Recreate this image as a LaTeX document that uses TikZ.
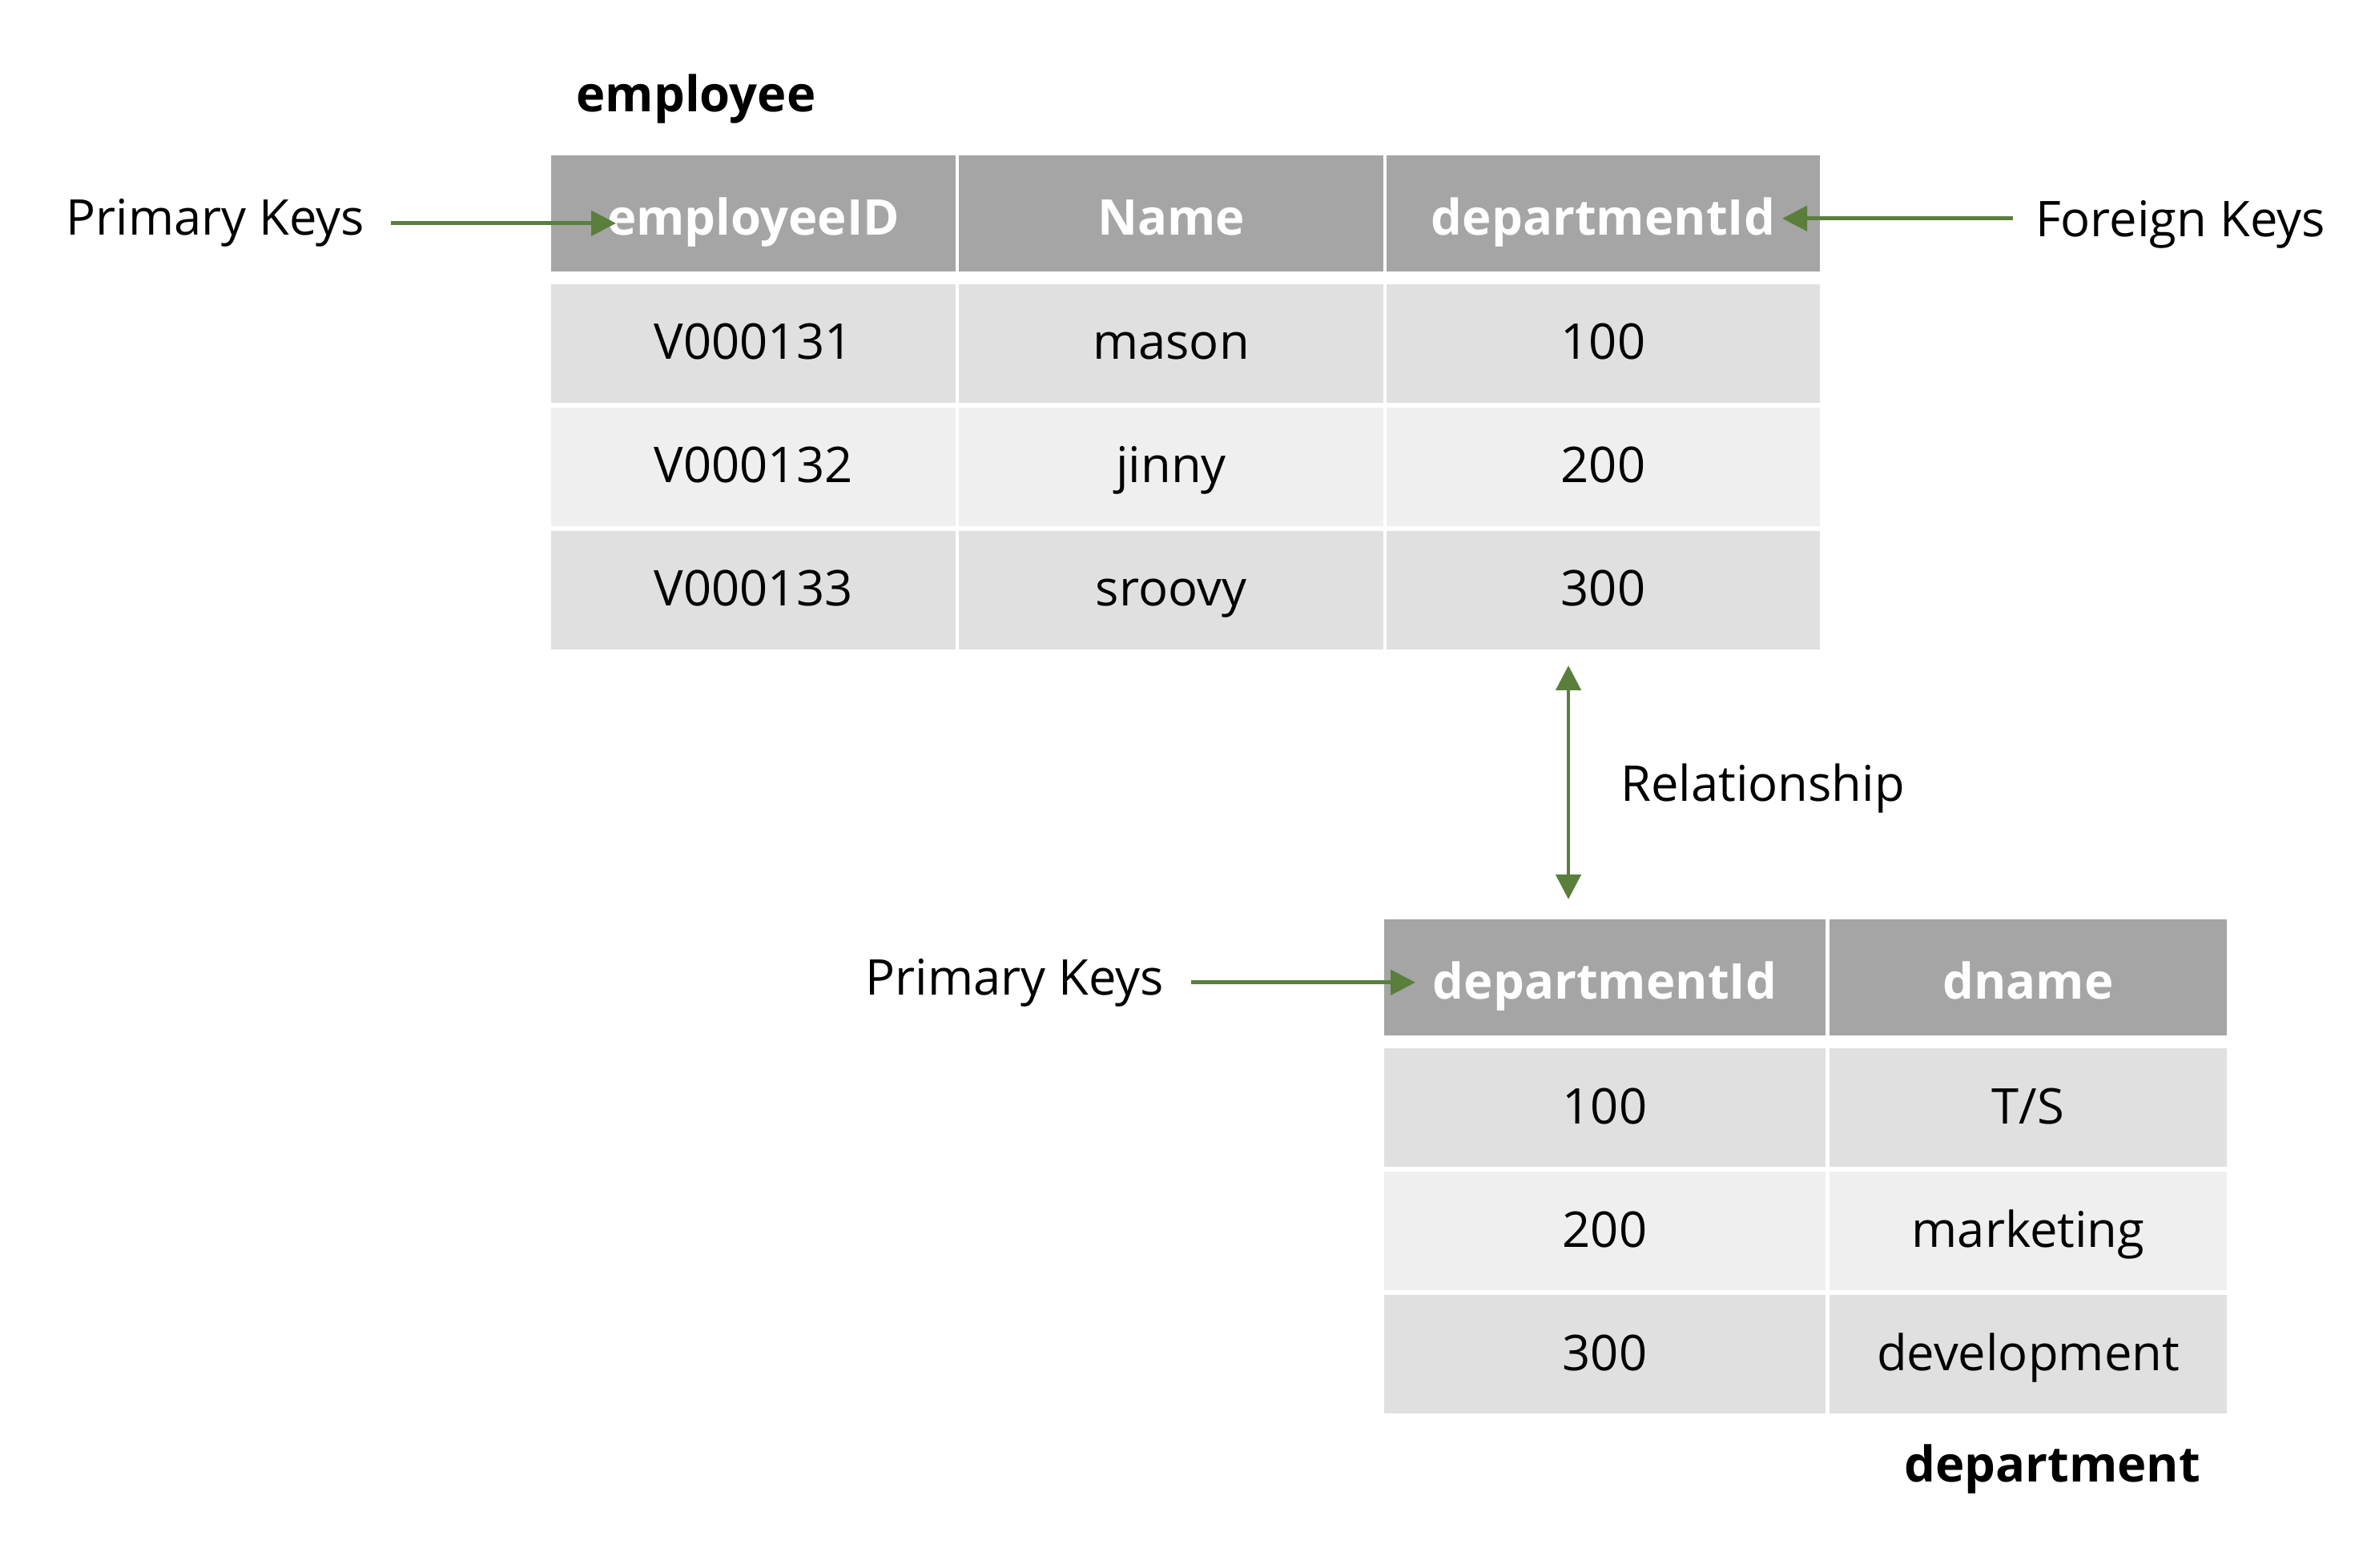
\documentclass[tikz,border=0pt]{standalone}
\usepackage{fontspec}
\setmainfont{Open Sans}
\usetikzlibrary{arrows.meta,positioning}
\definecolor{headgray}{HTML}{A5A5A5}
\definecolor{rowdark}{HTML}{E0E0E0}
\definecolor{rowlight}{HTML}{EFEFEF}
\definecolor{keygreen}{HTML}{5A7F3D}
\newcommand\cellfont{\fontsize{17.5}{21}\selectfont}

\begin{document}
\begin{tikzpicture}[
	tcell/.style={rectangle,inner sep=0pt,outer sep=0pt,minimum height=1.48cm,text height=0.5cm,text depth=0.1cm,font=\cellfont},
	hcell/.style={tcell,fill=headgray,minimum height=1.45cm,text height=0.6cm,text depth=0.06cm,text=white,font=\cellfont\bfseries},
	oddrow/.style={tcell,fill=rowdark},
	evenrow/.style={tcell,fill=rowlight},
	ecolA/.style={minimum width=5.05cm},
	ecolB/.style={minimum width=5.30cm},
	ecolC/.style={minimum width=5.41cm},
	dcolA/.style={minimum width=5.51cm},
	dcolB/.style={minimum width=4.96cm},
	keylabel/.style={inner sep=0pt,outer sep=0pt,font=\cellfont},
	tablename/.style={inner sep=0pt,outer sep=0pt,font=\cellfont\bfseries},
	keyarrow/.style={draw=keygreen,line width=1.4pt,-{Triangle[length=0.31cm,width=0.31cm]}},
	relarrow/.style={draw=keygreen,line width=1.4pt,{Triangle[length=0.31cm,width=0.31cm]}-{Triangle[length=0.31cm,width=0.31cm]}}]
	\useasboundingbox (0,0) rectangle (29.5,-19.58);
	\node (temp) [tablename,anchor=base] at (8.69,-1.40) {employee};
	\node (eh1) [hcell,ecolA,anchor=north west] at (6.88,-1.94) {employeeID};
	\node (eh2) [hcell,ecolB,right=0.04cm of eh1] {Name};
	\node (eh3) [hcell,ecolC,right=0.04cm of eh2] {departmentId};
	\node (e11) [oddrow,ecolA,below=0.16cm of eh1] {V000131};
	\node (e12) [oddrow,ecolB,below=0.16cm of eh2] {mason};
	\node (e13) [oddrow,ecolC,below=0.16cm of eh3] {100};
	\node (e21) [evenrow,ecolA,below=0.06cm of e11] {V000132};
	\node (e22) [evenrow,ecolB,below=0.06cm of e12] {jinny};
	\node (e23) [evenrow,ecolC,below=0.06cm of e13] {200};
	\node (e31) [oddrow,ecolA,below=0.06cm of e21] {V000133};
	\node (e32) [oddrow,ecolB,below=0.06cm of e22] {sroovy};
	\node (e33) [oddrow,ecolC,below=0.06cm of e23] {300};
	\node (dh1) [hcell,dcolA,anchor=north west] at (17.28,-11.48) {departmentId};
	\node (dh2) [hcell,dcolB,right=0.05cm of dh1] {dname};
	\node (d11) [oddrow,dcolA,below=0.16cm of dh1] {100};
	\node (d12) [oddrow,dcolB,below=0.16cm of dh2] {T/S};
	\node (d21) [evenrow,dcolA,below=0.06cm of d11] {200};
	\node (d22) [evenrow,dcolB,below=0.06cm of d12] {marketing};
	\node (d31) [oddrow,dcolA,below=0.06cm of d21] {300};
	\node (d32) [oddrow,dcolB,below=0.06cm of d22] {development};
	\node (tdept) [tablename,anchor=base] at (25.62,-18.50) {department};
	\node (pkemp) [keylabel,anchor=base east] at (4.55,-2.94) {Primary Keys};
	\node (fkemp) [keylabel,anchor=base west] at (25.41,-2.96) {Foreign Keys};
	\node (pkdept) [keylabel,anchor=base east] at (14.53,-12.42) {Primary Keys};
	\node (rel) [keylabel,anchor=base west] at (20.23,-10.00) {Relationship};
	\coordinate (pkemptip) at ([xshift=0.81cm]pkemp.east -| eh1.west);
	\coordinate (fkemptip) at ([xshift=-0.47cm,yshift=0.08cm]fkemp.west -| eh3.east);
	\coordinate (pkdepttip) at ([xshift=0.39cm]pkdept.east -| dh1.west);
	\path (pkemp.east) edge[keyarrow,shorten <=0.33cm] (pkemptip);
	\path ([yshift=0.08cm]fkemp.west) edge[keyarrow,shorten <=0.28cm] (fkemptip);
	\path (pkdept.east) edge[keyarrow,shorten <=0.34cm] (pkdepttip);
	\path ([xshift=-0.435cm]e33.south) edge[relarrow,shorten <=0.2cm,shorten >=0.25cm] ([xshift=-0.435cm]e33.south |- dh1.north);
\end{tikzpicture}
\end{document}
